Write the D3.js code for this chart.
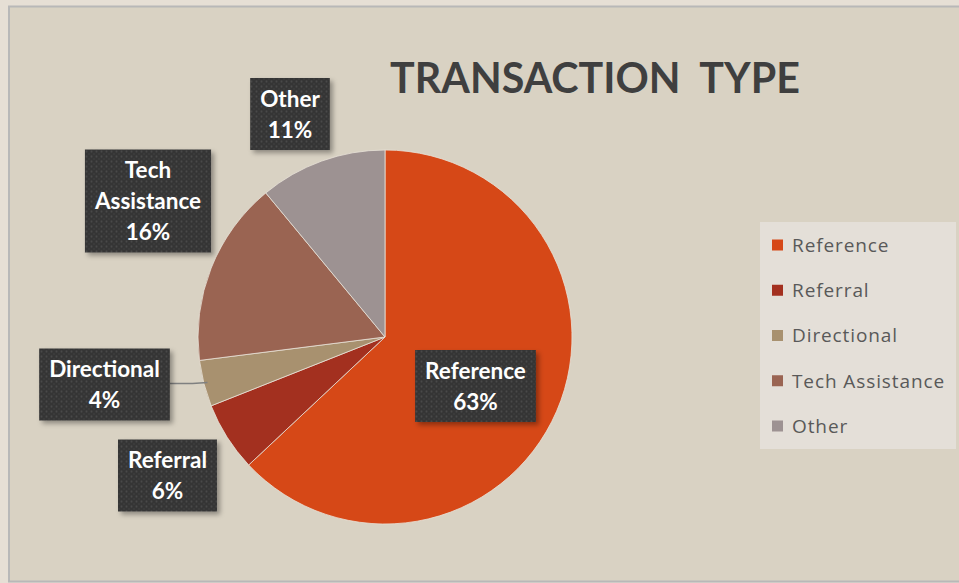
<!DOCTYPE html>
<html><head><meta charset="utf-8">
<script src="https://cdn.jsdelivr.net/npm/d3@7"></script>
<style>html,body{margin:0;padding:0;background:#e6dfd5;}svg{display:block;}</style>
</head><body>
<svg id="chart" width="959" height="583"></svg>
<script>
const categories = ["Reference", "Referral", "Directional", "Tech Assistance", "Other"];
const values = [63, 6, 4, 16, 11];
const colors = ["#d64817", "#a3301f", "#a8916f", "#9a6452", "#9d9292"];
const title = "TRANSACTION  TYPE";

const svg = d3.select("#chart");
const font = "Lato, 'Open Sans', sans-serif";
const legendFont = "'Open Sans', Lato, sans-serif";

// defs
const defs = svg.append("defs");
const pat = defs.append("pattern").attr("id", "dots").attr("patternUnits", "userSpaceOnUse")
  .attr("width", 5).attr("height", 5);
pat.append("rect").attr("width", 5).attr("height", 5).attr("fill", "#363636");
pat.append("circle").attr("cx", 1.5).attr("cy", 1.5).attr("r", 0.9).attr("fill", "#4a4a4a");
pat.append("circle").attr("cx", 4).attr("cy", 4).attr("r", 0.7).attr("fill", "#434343");
const sh = defs.append("filter").attr("id", "shadow").attr("x", "-20%").attr("y", "-20%").attr("width", "150%").attr("height", "150%");
sh.append("feDropShadow").attr("dx", 3).attr("dy", 3).attr("stdDeviation", 2.5).attr("flood-color", "#000").attr("flood-opacity", 0.35);

// panel
svg.append("rect").attr("x", 9).attr("y", 6.5).attr("width", 960).attr("height", 575)
  .attr("fill", "#d9d2c3").attr("stroke", "#b8b8b8").attr("stroke-width", 2);

// title
const t = svg.append("text").attr("x", 595).attr("y", 93).attr("text-anchor", "middle")
  .attr("font-family", font).attr("font-weight", 700).attr("font-size", 44)
  .attr("fill", "#3f3f3f").style("white-space", "pre").text(title);
const tw = t.node().getComputedTextLength();
t.attr("font-size", 44 * 410 / tw);

// pie
const cx = 385, cy = 337, R = 187;
const pie = d3.pie().sort(null).value(d => d.value);
const arc = d3.arc().innerRadius(0).outerRadius(R);
const data = categories.map((c, i) => ({ cat: c, value: values[i], color: colors[i] }));
const arcs = pie(data);
const g = svg.append("g").attr("transform", `translate(${cx},${cy})`);
g.selectAll("path").data(arcs).join("path").attr("d", arc)
  .attr("fill", d => d.data.color).attr("stroke", "#e8e2d8").attr("stroke-width", 0.8);

// label layout (centers relative to pie center)
const labelLayout = {
  "Reference": { dx: 90.5, dy: 49, lines: ["Reference"] },
  "Referral": { dx: -217.5, dy: 138.5, lines: ["Referral"] },
  "Directional": { dx: -280.5, dy: 47.5, lines: ["Directional"], leader: true },
  "Tech Assistance": { dx: -237, dy: -136, lines: ["Tech", "Assistance"] },
  "Other": { dx: -95, dy: -223, lines: ["Other"] }
};
const lineH = 31, fs = 22.5;

arcs.forEach(a => {
  const L = labelLayout[a.data.cat];
  const lines = L.lines.concat([a.data.value + "%"]);
  const bx = cx + L.dx, by = cy + L.dy;
  const lg = svg.append("g");
  const tmp = lg.append("g");
  let maxW = 0;
  lines.forEach(s => {
    const tt = tmp.append("text").attr("font-family", font).attr("font-weight", 700).attr("font-size", fs).text(s);
    maxW = Math.max(maxW, tt.node().getComputedTextLength());
  });
  tmp.remove();
  const bw = maxW + 20, bh = lines.length * lineH + 10;
  if (L.leader) {
    const ang = (a.startAngle + a.endAngle) / 2;
    const px = cx + Math.sin(ang) * R * 0.98, py = cy - Math.cos(ang) * R * 0.98;
    svg.insert("path", () => lg.node())
      .attr("d", `M${bx + bw / 2},${by - 1} L${px - 15},${by - 1} L${px},${py}`)
      .attr("fill", "none").attr("stroke", "#7f8080").attr("stroke-width", 1.5);
  }
  lg.append("rect").attr("x", bx - bw / 2).attr("y", by - bh / 2).attr("width", bw).attr("height", bh)
    .attr("fill", "url(#dots)").attr("filter", "url(#shadow)");
  lines.forEach((s, i) => {
    lg.append("text").attr("x", bx).attr("y", by - (lines.length - 1) * lineH / 2 + i * lineH)
      .attr("dy", "0.36em").attr("text-anchor", "middle")
      .attr("font-family", font).attr("font-weight", 700).attr("font-size", fs)
      .attr("fill", "#ffffff").text(s);
  });
});

// legend
const lgX = 760, lgY = 222;
svg.append("rect").attr("x", lgX).attr("y", lgY).attr("width", 196).attr("height", 227).attr("fill", "#e4dfd8");
const ly = d3.scalePoint().domain(categories).range([245, 426]);
const leg = svg.append("g");
categories.forEach((c, i) => {
  leg.append("rect").attr("x", 772).attr("y", ly(c) - 5.5).attr("width", 11).attr("height", 11).attr("fill", colors[i]);
  leg.append("text").attr("x", 792).attr("y", ly(c)).attr("dy", "0.36em")
    .attr("font-family", legendFont).attr("font-size", 19).attr("letter-spacing", 0.9)
    .attr("fill", "#595959").text(c);
});
</script>
</body></html>
